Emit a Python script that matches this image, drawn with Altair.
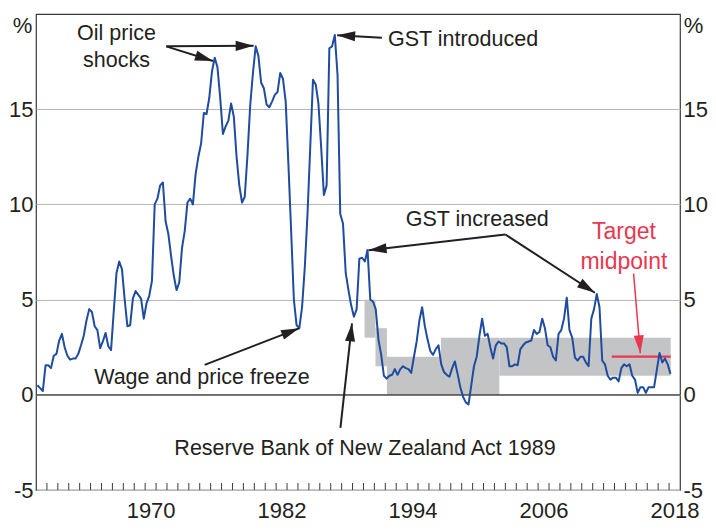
import math
import altair as alt
import pandas as pd

# ---------------- data ----------------
start_year = 1960  # first quarter = 1960 Q1
cpi = [
    0.5, 0.35, 0.2, 1.55,      # 1960
    1.55, 1.4, 2.05, 2.15,     # 1961
    2.85, 3.2, 2.5, 2.05,      # 1962
    1.85, 1.9, 1.9, 2.15,      # 1963
    2.6, 3.1, 3.9, 4.5,        # 1964
    4.35, 3.6, 3.4, 2.45,      # 1965
    2.8, 3.25, 2.55, 2.35,     # 1966
    4.4, 6.4, 7.0, 6.6,        # 1967
    5.0, 3.6, 3.65, 5.05,      # 1968
    5.45, 5.25, 5.05, 4.0,     # 1969
    4.8, 5.2, 6.0, 10.0,       # 1970
    10.3, 11.0, 11.15, 9.1,    # 1971
    8.45, 7.3, 6.25, 5.5,      # 1972
    5.9, 7.7, 8.6, 10.1,       # 1973
    10.3, 10.0, 11.6, 12.5,    # 1974
    13.2, 14.8, 14.75, 15.6,   # 1975
    17.0, 17.7, 17.2, 15.6,    # 1976
    13.7, 14.1, 14.4, 15.3,    # 1977
    14.6, 12.5, 11.0, 10.1,    # 1978
    10.4, 12.6, 15.2, 16.9,    # 1979
    18.3, 17.8, 16.4, 16.1,    # 1980
    15.25, 15.1, 15.4, 15.75,  # 1981
    15.9, 16.9, 16.6, 15.4,    # 1982
    12.1, 8.6, 5.0, 3.65,      # 1983
    3.5, 4.6, 6.7, 9.5,        # 1984
    13.0, 16.55, 16.3, 15.3,   # 1985
    13.0, 10.5, 11.0, 18.2,    # 1986
    18.3, 18.9, 16.8, 9.5,     # 1987
    9.0, 6.4, 5.5, 4.7,        # 1988
    4.1, 4.5, 7.15, 7.2,       # 1989
    7.0, 7.6, 5.0, 4.9,        # 1990
    4.5, 2.9, 2.1, 1.0,        # 1991
    0.85, 1.0, 1.05, 1.35,     # 1992
    1.05, 1.35, 1.5, 1.4,      # 1993
    1.35, 1.15, 2.0, 2.8,      # 1994
    3.9, 4.6, 3.6, 2.9,        # 1995
    2.3, 2.1, 2.4, 2.6,        # 1996
    1.6, 1.2, 1.05, 0.95,      # 1997
    1.4, 1.75, 1.1, 0.4,       # 1998
    -0.1, -0.4, -0.5, 0.5,     # 1999
    1.5, 2.0, 3.1, 4.0,        # 2000
    3.1, 3.2, 2.5, 1.9,        # 2001
    2.6, 2.8, 2.7, 2.7,        # 2002
    2.5, 1.5, 1.5, 1.6,        # 2003
    1.55, 2.4, 2.6, 2.75,      # 2004
    2.8, 2.85, 3.4, 3.2,       # 2005
    3.3, 4.0, 3.5, 2.6,        # 2006
    2.5, 2.0, 1.8, 3.2,        # 2007
    3.4, 4.0, 5.1, 3.4,        # 2008
    3.0, 1.95, 1.8, 2.0,       # 2009
    2.0, 1.7, 1.5, 4.0,        # 2010
    4.5, 5.3, 4.6, 1.8,        # 2011
    1.6, 1.0, 0.8, 0.9,        # 2012
    0.9, 0.7, 1.4, 1.6,        # 2013
    1.5, 1.6, 1.0, 0.8,        # 2014
    0.1, 0.4, 0.4, 0.1,        # 2015
    0.4, 0.4, 0.4, 1.3,        # 2016
    2.2, 1.7, 1.9, 1.6,        # 2017
    1.1,                       # 2018
]

# inflation target bands
band_start = [1990.1, 1991.1, 1992.15, 1997.1, 2002.45]
band_end = [1991.1, 1992.15, 1997.1, 2002.45, 2018.15]
band_low = [3.0, 1.5, 0.0, 0.0, 1.0]
band_high = [5.0, 3.5, 2.0, 3.0, 3.0]

# target midpoint
mid_start = [2012.75]
mid_end = [2018.15]
mid_value = [2.0]

# axes
x_domain = [1960, 2019]
y_domain = [-5, 20]
y_ticks = [-5, 0, 5, 10, 15]
year_labels = [1970, 1982, 1994, 2006, 2018]
year_ticks = list(range(1961, 2019))

# annotations (year, value of first text line)
ann_text = ["Oil price\nshocks", "GST introduced", "GST increased",
            "Wage and price freeze", "Reserve Bank of New Zealand Act 1989"]
ann_x = [1967.37, 1999.12, 2000.43, 1975.2, 1990.14]
ann_y = [18.93, 18.63, 9.16, 0.87, -2.84]

red_text = ["Target\nmidpoint"]
red_x = [2013.86]
red_y = [8.55]

arrow_x0 = [1971.93, 1971.93, 1991.69, 2003.0, 2003.0, 1975.45, 1987.89]
arrow_y0 = [18.30, 18.30, 18.75, 8.42, 8.42, 1.57, -1.74]
arrow_x1 = [1976.21, 1979.94, 1987.59, 1990.47, 2011.20, 1984.1, 1988.95]
arrow_y1 = [17.53, 18.33, 18.89, 7.59, 5.36, 3.49, 3.75]

red_arrow_x0 = [2014.75]
red_arrow_y0 = [6.37]
red_arrow_x1 = [2015.36]
red_arrow_y1 = [2.18]

# ---------------- layout / style ----------------
W, H = 644, 476
PX_X = W / (x_domain[1] - x_domain[0])
PX_Y = H / (y_domain[1] - y_domain[0])
FONT = "Liberation Sans"
BLUE = "#1f4c9e"
RED = "#e8384f"
TXT = "#231f20"
TICK_LEN = 7 / PX_Y
LAB = 22


def head_angle(x0, y0, x1, y1):
    dx = (x1 - x0) * PX_X
    dy = -(y1 - y0) * PX_Y
    return math.degrees(math.atan2(dx, -dy)) % 360


HEAD = "M0,0L-0.28,1L0.28,1Z"

df = pd.DataFrame({
    "t": [start_year + i // 4 + (i % 4 + 0.5) / 4 for i in range(len(cpi))],
    "v": cpi,
})
bands = pd.DataFrame({"x": band_start, "x2": band_end, "y": band_low, "y2": band_high})
mid = pd.DataFrame({"x": mid_start, "x2": mid_end, "y": mid_value})
ticks = pd.DataFrame({"x": year_ticks, "y": [y_domain[0]] * len(year_ticks),
                      "y2": [y_domain[0] + TICK_LEN] * len(year_ticks)})
zero = pd.DataFrame({"y": [0]})
ann = pd.DataFrame({"x": ann_x, "y": ann_y, "t": ann_text})
red_ann = pd.DataFrame({"x": red_x, "y": red_y, "t": red_text})
arrows = pd.DataFrame({"x": arrow_x0, "y": arrow_y0, "x2": arrow_x1, "y2": arrow_y1})
arrows["a"] = [head_angle(a, b, c, d) for a, b, c, d in zip(arrow_x0, arrow_y0, arrow_x1, arrow_y1)]
red_arrows = pd.DataFrame({"x": red_arrow_x0, "y": red_arrow_y0, "x2": red_arrow_x1, "y2": red_arrow_y1})
red_arrows["a"] = [head_angle(a, b, c, d) for a, b, c, d in
                   zip(red_arrow_x0, red_arrow_y0, red_arrow_x1, red_arrow_y1)]

xs = alt.Scale(domain=x_domain, nice=False, zero=False)
ys = alt.Scale(domain=y_domain, nice=False, zero=False)

YLAB = "datum.value < 0 ? '-' + abs(datum.value) : '' + datum.value"

x_axis = alt.Axis(values=[y + 0.5 for y in year_labels], labelExpr="'' + floor(datum.value)",
                  ticks=False, domain=False, grid=False, labelFontSize=LAB, labelFont=FONT,
                  labelColor=TXT, labelPadding=10, title=None, labelFlush=False)
left_axis = alt.Axis(values=y_ticks, grid=True, gridColor="#b7b7b7", gridWidth=1, ticks=False,
                     domain=False, labelFontSize=LAB, labelFont=FONT, labelColor=TXT,
                     labelPadding=3, labelExpr=YLAB, title="%", titleAngle=0, titleX=-14,
                     titleY=11, titleAlign="center", titleBaseline="middle", titleFont=FONT,
                     titleFontSize=22, titleFontWeight="normal", titleColor=TXT)
right_axis = alt.Axis(values=y_ticks, orient="right", grid=False, ticks=False, domain=False,
                      labelFontSize=LAB, labelFont=FONT, labelColor=TXT, labelPadding=3,
                      labelExpr=YLAB, title="%", titleAngle=0, titleX=13, titleY=11,
                      titleAlign="center", titleBaseline="middle", titleFont=FONT,
                      titleFontSize=22, titleFontWeight="normal", titleColor=TXT)

band_layer = alt.Chart(bands).mark_rect(color="#c3c4c5").encode(
    x=alt.X("x:Q", scale=xs, axis=x_axis), x2="x2:Q",
    y=alt.Y("y:Q", scale=ys, axis=right_axis), y2="y2:Q")

zero_layer = alt.Chart(zero).mark_rule(color="#3c3c3c", strokeWidth=1.2).encode(
    y=alt.Y("y:Q", scale=ys, axis=left_axis))

tick_layer = alt.Chart(ticks).mark_rule(color="#3c3c3c", strokeWidth=1).encode(
    x=alt.X("x:Q", scale=xs, axis=None), y=alt.Y("y:Q", scale=ys, axis=None), y2="y2:Q")

mid_layer = alt.Chart(mid).mark_rule(color=RED, strokeWidth=2.2).encode(
    x=alt.X("x:Q", scale=xs, axis=None), x2="x2:Q", y=alt.Y("y:Q", scale=ys, axis=None))

line_layer = alt.Chart(df).mark_line(color=BLUE, strokeWidth=2, strokeJoin="round").encode(
    x=alt.X("t:Q", scale=xs, axis=None), y=alt.Y("v:Q", scale=ys, axis=None))

arrow_layer = alt.Chart(arrows).mark_rule(color=TXT, strokeWidth=2).encode(
    x=alt.X("x:Q", scale=xs, axis=None), y=alt.Y("y:Q", scale=ys, axis=None),
    x2="x2:Q", y2="y2:Q")
head_layer = alt.Chart(arrows).mark_point(shape=HEAD, filled=True, size=1296, opacity=1,
                                          color=TXT, strokeWidth=0).encode(
    x=alt.X("x2:Q", scale=xs, axis=None), y=alt.Y("y2:Q", scale=ys, axis=None),
    angle=alt.Angle("a:Q", scale=None))

red_arrow_layer = alt.Chart(red_arrows).mark_rule(color=RED, strokeWidth=1.5).encode(
    x=alt.X("x:Q", scale=xs, axis=None), y=alt.Y("y:Q", scale=ys, axis=None),
    x2="x2:Q", y2="y2:Q")
red_head_layer = alt.Chart(red_arrows).mark_point(shape=HEAD, filled=True, size=1296, opacity=1,
                                                  color=RED, strokeWidth=0).encode(
    x=alt.X("x2:Q", scale=xs, axis=None), y=alt.Y("y2:Q", scale=ys, axis=None),
    angle=alt.Angle("a:Q", scale=None))

text_layer = alt.Chart(ann).mark_text(font=FONT, fontSize=21.5, color=TXT, align="center",
                                      baseline="middle", lineBreak="\n", lineHeight=27).encode(
    x=alt.X("x:Q", scale=xs, axis=None), y=alt.Y("y:Q", scale=ys, axis=None), text="t:N")
red_text_layer = alt.Chart(red_ann).mark_text(font=FONT, fontSize=23, color=RED, align="center",
                                              baseline="middle", lineBreak="\n", lineHeight=30).encode(
    x=alt.X("x:Q", scale=xs, axis=None), y=alt.Y("y:Q", scale=ys, axis=None), text="t:N")

chart = alt.layer(
    band_layer, zero_layer, tick_layer, mid_layer, line_layer,
    arrow_layer, head_layer, red_arrow_layer, red_head_layer, text_layer, red_text_layer,
).resolve_axis(x="independent", y="independent").properties(
    width=W, height=H,
    autosize=alt.AutoSizeParams(type="none"),
    padding={"left": 28, "top": 6, "right": 28, "bottom": 31},
    background="white",
).configure_view(stroke="#3a3a3a", strokeWidth=1.2)

chart.save("out.html", embed_options={"renderer": "svg", "actions": False})
